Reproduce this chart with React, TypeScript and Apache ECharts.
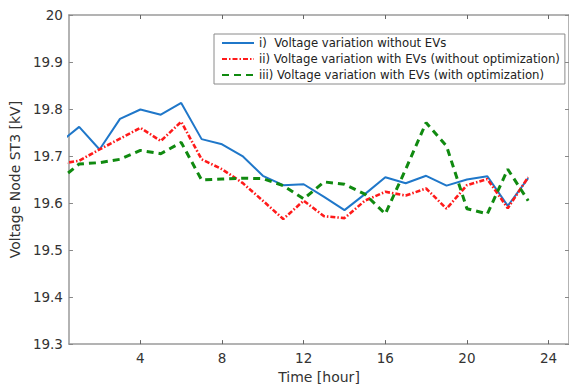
import React, { useEffect, useRef } from "react";
import * as echarts from "echarts";

const hours = [0, 1, 2, 3, 4, 5, 6, 7, 8, 9, 10, 11, 12, 13, 14, 15, 16, 17, 18, 19, 20, 21, 22, 23];
const withoutEVs = [19.727, 19.762, 19.714, 19.779, 19.799, 19.788, 19.813, 19.736, 19.725, 19.7, 19.658, 19.638, 19.64, 19.613, 19.585, 19.619, 19.655, 19.642, 19.658, 19.637, 19.65, 19.657, 19.594, 19.653];
const withEVsNoOpt = [19.683, 19.69, 19.714, 19.737, 19.76, 19.732, 19.773, 19.693, 19.672, 19.643, 19.605, 19.566, 19.605, 19.572, 19.568, 19.605, 19.624, 19.616, 19.631, 19.588, 19.638, 19.651, 19.589, 19.655];
const withEVsOpt = [19.648, 19.683, 19.686, 19.693, 19.712, 19.705, 19.729, 19.649, 19.651, 19.653, 19.652, 19.637, 19.609, 19.645, 19.64, 19.619, 19.577, 19.672, 19.771, 19.721, 19.588, 19.577, 19.672, 19.605];
const xTicks = [4, 8, 12, 16, 20, 24];
const seriesNames = [
  "i)  Voltage variation without EVs",
  "ii) Voltage variation with EVs (without optimization)",
  "iii) Voltage variation with EVs (with optimization)",
];

const FONT = "DejaVu Sans";
const AXIS_COLOR = "#9a9a9a";

export default function App() {
  const ref = useRef<HTMLDivElement>(null);
  useEffect(() => {
    if (!ref.current) return;
    const chart = echarts.init(ref.current, null, { renderer: "svg" });
    const pair = (arr: number[]) => hours.map((h, i) => [h, arr[i]]);
    const xCommon = {
      type: "value",
      min: 0.5,
      max: 25,
      splitLine: { show: false },
      axisLine: { show: true, lineStyle: { color: AXIS_COLOR, width: 1.5 } },
      axisTick: { show: true, inside: true, length: 4, customValues: xTicks, lineStyle: { color: "#666" } },
    };
    const yCommon = {
      type: "value",
      min: 19.3,
      max: 20,
      interval: 0.1,
      splitLine: { show: false },
      axisLine: { show: true, lineStyle: { color: AXIS_COLOR, width: 1.5 } },
      axisTick: { show: true, inside: true, length: 4, lineStyle: { color: "#888" } },
    };
    chart.setOption({
      animation: false,
      backgroundColor: "#ffffff",
      grid: { left: 68, right: -2, top: 15, bottom: 43 },
      legend: {
        orient: "vertical",
        left: 214,
        top: 34,
        data: seriesNames,
        itemWidth: 32,
        itemHeight: 14,
        itemGap: 4,
        padding: [3, 5, 3, 7],
        borderColor: "#8a8a8a",
        borderWidth: 1,
        backgroundColor: "#ffffff",
        itemStyle: { opacity: 0 },
        lineStyle: { opacity: 1 },
        textStyle: { fontFamily: FONT, fontSize: 11.7, color: "#222" },
      },
      xAxis: [
        {
          ...xCommon,
          position: "bottom",
          name: "Time [hour]",
          nameLocation: "middle",
          nameGap: 24,
          nameTextStyle: { fontFamily: FONT, fontSize: 14, color: "#333" },
          axisLabel: { show: true, customValues: xTicks, margin: 7, fontFamily: FONT, fontSize: 13.5, color: "#333" },
        },
        {
          ...xCommon,
          position: "top",
          axisLabel: { show: false, customValues: xTicks },
        },
      ],
      yAxis: [
        {
          ...yCommon,
          position: "left",
          name: "Voltage Node ST3 [kV]",
          nameLocation: "middle",
          nameRotate: 90,
          nameGap: 41,
          nameTextStyle: { fontFamily: FONT, fontSize: 14, color: "#333" },
          axisLabel: {
            margin: 6,
            fontFamily: FONT,
            fontSize: 13.5,
            color: "#333",
            formatter: (v: number) => String(Math.round(v * 10) / 10),
          },
        },
        {
          ...yCommon,
          position: "right",
          axisLabel: { show: false },
        },
      ],
      series: [
        {
          name: seriesNames[0],
          type: "line",
          data: pair(withoutEVs),
          symbol: "none",
          showSymbol: false,
          clip: true,
          color: "#1f77c9",
          lineStyle: { color: "#1f77c9", width: 2 },
        },
        {
          name: seriesNames[1],
          type: "line",
          data: pair(withEVsNoOpt),
          symbol: "none",
          showSymbol: false,
          clip: true,
          color: "#ff1a1a",
          lineStyle: { color: "#ff1a1a", width: 2.6, type: [5, 2, 1.5, 2] },
        },
        {
          name: seriesNames[2],
          type: "line",
          data: pair(withEVsOpt),
          symbol: "none",
          showSymbol: false,
          clip: true,
          color: "#108a10",
          lineStyle: { color: "#108a10", width: 3, type: [7, 5] },
        },
      ],
    });
    return () => chart.dispose();
  }, []);
  return (
    <div
      ref={ref}
      style={{ position: "fixed", left: 0, top: 0, width: 569, height: 389, background: "#fff" }}
    />
  );
}
